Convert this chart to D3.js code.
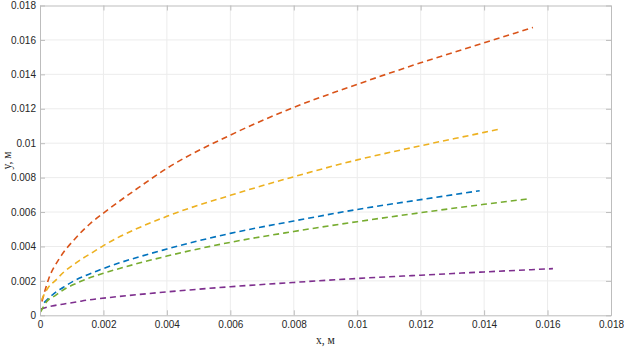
<!DOCTYPE html>
<html>
<head>
<meta charset="utf-8">
<script src="https://cdn.jsdelivr.net/npm/d3@7"></script>
<style>
  body { margin: 0; background: #fff; }
  svg { display: block; }
</style>
</head>
<body>
<script>
// data
var xTicks = [0, 0.002, 0.004, 0.006, 0.008, 0.01, 0.012, 0.014, 0.016, 0.018];
var xTickLabels = ["0", "0.002", "0.004", "0.006", "0.008", "0.01", "0.012", "0.014", "0.016", "0.018"];
var yTicks = [0, 0.002, 0.004, 0.006, 0.008, 0.01, 0.012, 0.014, 0.016, 0.018];
var yTickLabels = ["0", "0.002", "0.004", "0.006", "0.008", "0.01", "0.012", "0.014", "0.016", "0.018"];

var xBlue = [0.00013, 0.00043, 0.00074, 0.00108, 0.00141, 0.0018, 0.002, 0.004, 0.006, 0.008, 0.010, 0.012, 0.01386];
var yBlue = [0.00074, 0.00125, 0.00163, 0.00201, 0.00229, 0.00258, 0.00272, 0.00385, 0.00476, 0.00548, 0.00615, 0.00672, 0.00724];

var xOrange = [0.00006, 0.00027, 0.00063, 0.00112, 0.0016, 0.002, 0.003, 0.004, 0.006, 0.008, 0.010, 0.012, 0.014, 0.01554];
var yOrange = [0.0008, 0.0021, 0.00335, 0.00448, 0.00536, 0.00594, 0.00728, 0.00854, 0.01047, 0.01208, 0.01342, 0.01467, 0.01583, 0.01672];

var xYellow = [0.00005, 0.00025, 0.00049, 0.00076, 0.00104, 0.00135, 0.00166, 0.002, 0.004, 0.006, 0.008, 0.010, 0.012, 0.014, 0.01453];
var yYellow = [0.0009, 0.00159, 0.00203, 0.00253, 0.00292, 0.00331, 0.00366, 0.00405, 0.00575, 0.00697, 0.00805, 0.00903, 0.00985, 0.01063, 0.01084];

var xPurple = [0.00003, 0.00038, 0.00076, 0.00114, 0.00151, 0.00188, 0.004, 0.006, 0.008, 0.010, 0.012, 0.014, 0.01617];
var yPurple = [0.00037, 0.00054, 0.00066, 0.00077, 0.00089, 0.00097, 0.00136, 0.00166, 0.00191, 0.00214, 0.00233, 0.00252, 0.00271];

var xGreen = [0.00002, 0.0002, 0.00049, 0.00082, 0.00115, 0.00148, 0.00183, 0.002, 0.004, 0.006, 0.008, 0.010, 0.012, 0.014, 0.01544];
var yGreen = [0.0002, 0.00077, 0.00116, 0.00157, 0.00186, 0.00212, 0.00234, 0.00244, 0.00344, 0.00424, 0.00487, 0.00544, 0.00596, 0.00645, 0.00677];

var series = [
  {x: xBlue, y: yBlue, color: "#0072BD"},
  {x: xOrange, y: yOrange, color: "#D95319"},
  {x: xYellow, y: yYellow, color: "#EDB120"},
  {x: xPurple, y: yPurple, color: "#7E2F8E"},
  {x: xGreen, y: yGreen, color: "#77AC30"}
];

var margin = {left: 40, right: 13, top: 5.5, bottom: 31.7};
var width = 624 - margin.left - margin.right;
var height = 347 - margin.top - margin.bottom;

var svg = d3.select("body")
  .append("svg")
  .attr("width", 624)
  .attr("height", 347);

var g = svg.append("g")
  .attr("transform", "translate(" + margin.left + "," + margin.top + ")");

var x = d3.scaleLinear().domain([0, 0.018]).range([0, width]);
var y = d3.scaleLinear().domain([0, 0.018]).range([height, 0]);

// grid
g.append("g").selectAll("line")
  .data(xTicks.slice(1, -1))
  .enter().append("line")
  .attr("x1", function(d) { return x(d); })
  .attr("x2", function(d) { return x(d); })
  .attr("y1", 0).attr("y2", height)
  .attr("stroke", "#ececec").attr("stroke-width", 1);

g.append("g").selectAll("line")
  .data(yTicks.slice(1, -1))
  .enter().append("line")
  .attr("y1", function(d) { return y(d); })
  .attr("y2", function(d) { return y(d); })
  .attr("x1", 0).attr("x2", width)
  .attr("stroke", "#ececec").attr("stroke-width", 1);

// curves
var line = d3.line()
  .x(function(d) { return x(d[0]); })
  .y(function(d) { return y(d[1]); })
  .curve(d3.curveMonotoneX);

series.forEach(function(s) {
  var pts = s.x.map(function(v, i) { return [v, s.y[i]]; });
  g.append("path")
    .datum(pts)
    .attr("fill", "none")
    .attr("stroke", s.color)
    .attr("stroke-width", 1.6)
    .attr("stroke-dasharray", "6,4")
    .attr("d", line);
});

// axes
function styleAxis(sel) {
  sel.select(".domain").attr("stroke", "#bdbdbd");
  sel.selectAll(".tick line").attr("stroke", "#bdbdbd");
  sel.selectAll("text")
    .attr("fill", "#262626")
    .attr("font-family", "'Liberation Sans', Arial, sans-serif")
    .attr("font-size", "10px");
}

var xAxisCall = d3.axisBottom(x)
  .tickValues(xTicks)
  .tickFormat(function(d, i) { return xTickLabels[i]; })
  .tickSizeInner(-5).tickSizeOuter(0).tickPadding(6);
g.append("g")
  .attr("transform", "translate(0," + height + ")")
  .call(xAxisCall)
  .call(styleAxis);

var yAxisCall = d3.axisLeft(y)
  .tickValues(yTicks)
  .tickFormat(function(d, i) { return yTickLabels[i]; })
  .tickSizeInner(-5).tickSizeOuter(0).tickPadding(4);
g.append("g")
  .call(yAxisCall)
  .call(styleAxis);

g.append("g")
  .call(d3.axisTop(x).tickValues(xTicks).tickFormat("").tickSizeInner(-5).tickSizeOuter(0))
  .call(styleAxis);

g.append("g")
  .attr("transform", "translate(" + width + ",0)")
  .call(d3.axisRight(y).tickValues(yTicks).tickFormat("").tickSizeInner(-5).tickSizeOuter(0))
  .call(styleAxis);

// axis labels
g.append("text")
  .attr("x", width / 2)
  .attr("y", height + 29)
  .attr("text-anchor", "middle")
  .attr("font-family", "'Liberation Serif', 'Times New Roman', serif")
  .attr("font-size", "11.5px")
  .attr("fill", "#262626")
  .text("x, м");

g.append("text")
  .attr("x", -(height / 2))
  .attr("y", -29)
  .attr("text-anchor", "middle")
  .attr("transform", "rotate(-90)")
  .attr("font-family", "'Liberation Serif', 'Times New Roman', serif")
  .attr("font-size", "11.5px")
  .attr("fill", "#262626")
  .text("y, м");
</script>
</body>
</html>
